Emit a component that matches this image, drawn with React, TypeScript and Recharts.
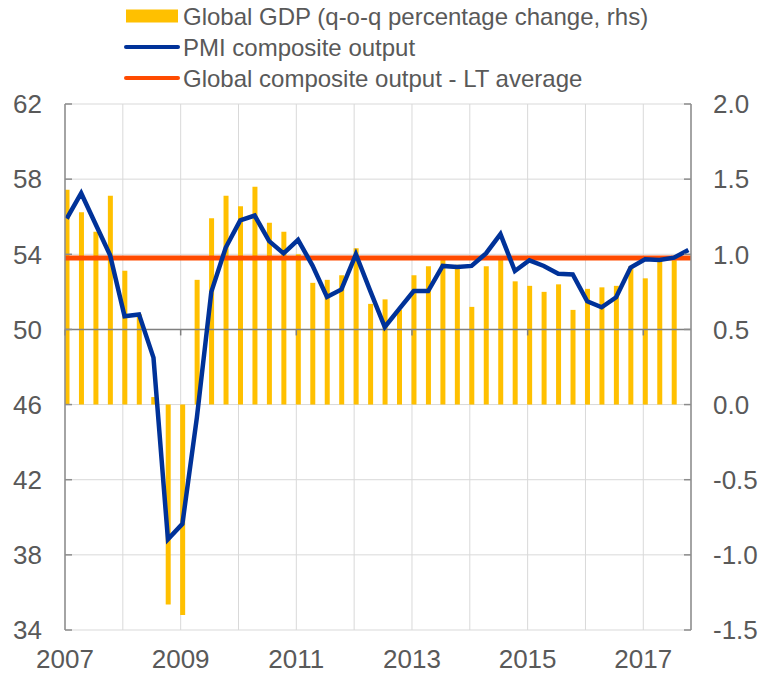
import React from 'react';
import {
  ComposedChart,
  Bar,
  Line,
  XAxis,
  YAxis,
  CartesianGrid,
  ReferenceLine,
} from 'recharts';

// Quarters 2007Q1 .. 2017Q4
const quarters = [
  '2007Q1', '2007Q2', '2007Q3', '2007Q4',
  '2008Q1', '2008Q2', '2008Q3', '2008Q4',
  '2009Q1', '2009Q2', '2009Q3', '2009Q4',
  '2010Q1', '2010Q2', '2010Q3', '2010Q4',
  '2011Q1', '2011Q2', '2011Q3', '2011Q4',
  '2012Q1', '2012Q2', '2012Q3', '2012Q4',
  '2013Q1', '2013Q2', '2013Q3', '2013Q4',
  '2014Q1', '2014Q2', '2014Q3', '2014Q4',
  '2015Q1', '2015Q2', '2015Q3', '2015Q4',
  '2016Q1', '2016Q2', '2016Q3', '2016Q4',
  '2017Q1', '2017Q2', '2017Q3', '2017Q4',
];

// Global GDP, q-o-q % change (rhs) — last quarter not yet available
const gdpGrowth = [
  1.43, 1.28, 1.15, 1.39, 0.89, 0.6, 0.05, -1.33, -1.4, 0.83,
  1.24, 1.39, 1.32, 1.45, 1.21, 1.15, 1.0, 0.81, 0.83, 0.86,
  1.04, 0.67, 0.7, 0.63, 0.86, 0.92, 0.97, 0.93, 0.65, 0.92,
  0.97, 0.82, 0.79, 0.75, 0.8, 0.63, 0.77, 0.78, 0.79, 0.92,
  0.84, 0.96, 0.96,
];

// PMI composite output (lhs)
const pmiComposite = [
  55.9, 57.25, 55.6, 53.95, 50.7, 50.8, 48.5, 38.83, 39.65, 45.3,
  52.0, 54.36, 55.8, 56.06, 54.7, 54.05, 54.77, 53.4, 51.73, 52.13,
  54.0, 52.04, 50.13, 51.09, 52.04, 52.04, 53.38, 53.32, 53.38, 54.05,
  55.07, 53.11, 53.68, 53.38, 52.96, 52.93, 51.5, 51.18, 51.71, 53.29,
  53.73, 53.7, 53.82, 54.23,
];

// Global composite output - long-term average
const ltAverage = 53.8;

const yearTicks = [2007, 2008, 2009, 2010, 2011, 2012, 2013, 2014, 2015, 2016, 2017];
const labelledYears = [2007, 2009, 2011, 2013, 2015, 2017];
const leftTicks = [34, 38, 42, 46, 50, 54, 58, 62];
const rightTicks = [-1.5, -1.0, -0.5, 0.0, 0.5, 1.0, 1.5, 2.0];
const axisCrossing = 50;

const legendItems = [
  { label: 'Global GDP (q-o-q percentage change, rhs)', color: '#FFC000', kind: 'box' },
  { label: 'PMI composite output', color: '#003299', kind: 'line' },
  { label: 'Global composite output - LT average', color: '#FF4B00', kind: 'line' },
];

const QUARTER_OFFSET = 0.03; // data observation placed shortly after quarter start

const data = quarters.map((q, i) => {
  const year = parseInt(q.slice(0, 4), 10);
  const qn = parseInt(q.slice(5), 10);
  return {
    q,
    t: year + (qn - 1) / 4 + QUARTER_OFFSET,
    gdp: i < gdpGrowth.length ? gdpGrowth[i] : null,
    pmi: pmiComposite[i],
  };
});

const FONT = '"Liberation Sans", Arial, sans-serif';
const TEXT = '#595959';
const AXIS = '#8c8c8c';

export default function App() {
  return (
    <div style={{ position: 'absolute', left: 0, top: 0, width: 763, height: 675, background: '#fff', fontFamily: FONT }}>
      <ComposedChart
        width={763}
        height={675}
        data={data}
        margin={{ top: 104, right: 12, bottom: 10, left: 15 }}
      >
        <CartesianGrid yAxisId="left" stroke="#d9d9d9" strokeWidth={1} />
        <XAxis
          type="number"
          dataKey="t"
          domain={[2007, 2017.825]}
          ticks={yearTicks}
          interval={0}
          allowDataOverflow
          tickFormatter={(v: number) => (labelledYears.includes(v) ? String(v) : '')}
          axisLine={false}
          tickLine={false}
          tickSize={0}
          tickMargin={20}
          height={35}
          tick={{ fontSize: 26, fill: TEXT, fontFamily: FONT }}
        />
        <YAxis
          yAxisId="left"
          domain={[34, 62]}
          ticks={leftTicks}
          interval={0}
          width={50}
          stroke={AXIS}
          strokeWidth={1.5}
          tickSize={-7}
          tickMargin={30}
          tick={{ fontSize: 26, fill: TEXT, fontFamily: FONT }}
        />
        <YAxis
          yAxisId="right"
          orientation="right"
          domain={[-1.5, 2]}
          ticks={rightTicks}
          interval={0}
          width={60}
          stroke={AXIS}
          strokeWidth={1.5}
          tickSize={-7}
          tickMargin={29}
          tickFormatter={(v: number) => v.toFixed(1)}
          tick={{ fontSize: 26, fill: TEXT, fontFamily: FONT, textAnchor: 'start' }}
        />
        <Bar
          yAxisId="right"
          dataKey="gdp"
          fill="#FFC000"
          barSize={5}
          isAnimationActive={false}
        />
        <ReferenceLine yAxisId="left" y={axisCrossing} stroke="#808080" strokeWidth={1.5} />
        {labelledYears.map((yr) => (
          <ReferenceLine
            key={yr}
            yAxisId="left"
            segment={[
              { x: yr, y: axisCrossing },
              { x: yr, y: axisCrossing - 0.32 },
            ]}
            stroke="#808080"
            strokeWidth={1.5}
          />
        ))}
        <ReferenceLine yAxisId="left" y={ltAverage} stroke="#FF4B00" strokeWidth={5} />
        <Line
          yAxisId="left"
          type="linear"
          dataKey="pmi"
          stroke="#003299"
          strokeWidth={4.5}
          dot={false}
          activeDot={false}
          isAnimationActive={false}
        />
      </ComposedChart>
      <svg
        width={763}
        height={95}
        style={{ position: 'absolute', left: 0, top: 0 }}
      >
        {legendItems.map((it, k) => {
          const cy = 16 + k * 31;
          return (
            <g key={it.label}>
              {it.kind === 'box' ? (
                <rect x={126} y={cy - 6.5} width={52} height={13} fill={it.color} />
              ) : (
                <line x1={126} x2={178} y1={cy} y2={cy} stroke={it.color} strokeWidth={4} strokeLinecap="round" />
              )}
              <text
                x={183}
                y={cy}
                dominantBaseline="central"
                fontSize={24}
                fill={TEXT}
                fontFamily={FONT}
              >
                {it.label}
              </text>
            </g>
          );
        })}
      </svg>
    </div>
  );
}
